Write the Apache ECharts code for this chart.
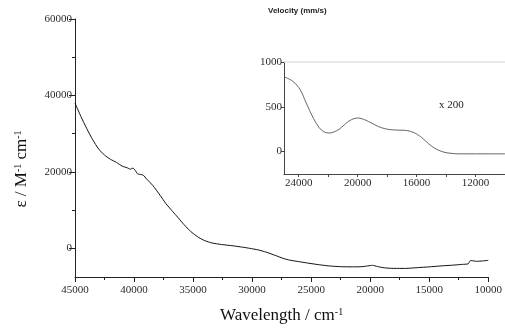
<!DOCTYPE html>
<html><head><meta charset="utf-8">
<script src="https://cdn.jsdelivr.net/npm/echarts@6/dist/echarts.min.js"></script>
<style>html,body{margin:0;padding:0;background:#fff}#c{width:505px;height:329px}</style>
</head><body><div id="c"></div>
<script>
// Main spectrum
const mainWave = [45000,44500,44000,43500,43000,42500,42000,41500,41000,40600,40300,40100,39900,39700,39400,39200,38950,38400,37800,37300,36800,36400,35850,35400,35000,34500,34000,33400,32600,31600,30800,30200,29500,28800,28000,27300,26800,26000,25200,24300,23500,22500,21500,20700,20200,19800,19400,18800,18000,17000,16000,15000,14000,13000,12200,11700,11550,11450,11000,10500,10000];
const mainEps = [38000,34500,31300,28400,26000,24400,23300,22500,21500,21100,20700,21000,20400,19500,19300,19100,18200,16400,13900,11700,9900,8500,6500,5000,3900,2800,2000,1400,1000,650,300,0,-400,-1000,-1900,-2700,-3100,-3500,-3900,-4300,-4600,-4800,-4850,-4800,-4600,-4450,-4750,-5100,-5250,-5250,-5050,-4850,-4600,-4400,-4200,-4050,-3300,-3200,-3400,-3300,-3150];
// Inset (x 200)
const insetWave = [25000,24400,23900,23500,23000,22600,22300,21950,21600,21250,20900,20600,20250,19950,19600,19250,18900,18600,18200,17800,17300,16800,16400,16100,15800,15500,15200,14800,14400,14000,13600,13200,12500,11500,10000];
const insetVal = [835,785,690,545,370,265,222,207,220,250,300,340,368,375,360,335,305,280,258,245,240,238,225,205,175,135,90,40,8,-12,-20,-25,-25,-25,-25];
// Tick labels
const mainYLabels = [0,20000,40000,60000];
const mainYMinor = [10000,30000,50000];
const insetXLabels = [12000,16000,20000,24000];
const insetXTicks = [12000,14000,16000,18000,20000,22000,24000];
const insetYLabels = [0,500,1000];

const serif = 'Liberation Serif';
const fmt = v => String(v);
const lbl = {fontFamily: serif, fontSize: 11, color: '#2a2a2a', formatter: fmt};
const axLine = {onZero: false, lineStyle: {color: '#222', width: 1}};

const chart = echarts.init(document.getElementById('c'));
chart.setOption({
  animation: false,
  backgroundColor: '#fff',
  title: {text: 'Velocity (mm/s)', left: 263, top: 2,
    textStyle: {fontFamily: 'Liberation Sans', fontSize: 8, fontWeight: 'bold', color: '#222'}},
  grid: [
    {left: 75, right: 15, top: 19, bottom: 48},
    {left: 284, right: -5, top: 62, bottom: 155}
  ],
  xAxis: [
    {gridIndex: 0, type: 'value', inverse: true, min: 10000, max: 45000, interval: 5000, position: 'bottom',
     axisLine: axLine, splitLine: {show: false},
     axisTick: {show: true, length: 5, lineStyle: {color: '#222'}},
     minorTick: {show: true, splitNumber: 2, length: 3, lineStyle: {color: '#222'}},
     axisLabel: Object.assign({margin: 8}, lbl),
     name: 'Wavelength / cm{s|-1}', nameLocation: 'middle', nameGap: 30,
     nameTextStyle: {fontFamily: serif, fontSize: 17, color: '#111',
       rich: {s: {fontFamily: serif, fontSize: 10, color: '#111', verticalAlign: 'top', lineHeight: 10}}}},
    {gridIndex: 1, type: 'value', inverse: true, min: 10000, max: 25000, position: 'bottom',
     axisLine: {onZero: false, lineStyle: {color: '#444', width: 1}}, splitLine: {show: false},
     axisTick: {show: true, length: 3, customValues: insetXTicks, lineStyle: {color: '#444'}},
     axisLabel: Object.assign({margin: 4, customValues: insetXLabels}, lbl)},
    {gridIndex: 1, type: 'value', inverse: true, min: 10000, max: 25000, position: 'top',
     axisLine: {onZero: false, lineStyle: {color: '#e2e2e2', width: 1.5}}, splitLine: {show: false},
     axisTick: {show: false}, axisLabel: {show: false}}
  ],
  yAxis: [
    {gridIndex: 0, type: 'value', min: -7500, max: 60000, position: 'left',
     axisLine: Object.assign({show: true}, axLine), splitLine: {show: false},
     axisTick: {show: true, length: 6, customValues: mainYLabels, lineStyle: {color: '#222'}},
     axisLabel: Object.assign({margin: 3, customValues: mainYLabels}, lbl)},
    {gridIndex: 0, type: 'value', min: -7500, max: 60000, position: 'left', offset: 0,
     axisLine: {show: false, onZero: false}, splitLine: {show: false},
     axisTick: {show: true, length: 3, customValues: mainYMinor, lineStyle: {color: '#222'}},
     axisLabel: {show: false}},
    {gridIndex: 1, type: 'value', min: -250, max: 1000, position: 'left',
     axisLine: {show: true, onZero: false, lineStyle: {color: '#444', width: 1}}, splitLine: {show: false},
     axisTick: {show: true, length: 3, customValues: insetYLabels, lineStyle: {color: '#444'}},
     axisLabel: Object.assign({margin: 2, customValues: insetYLabels}, lbl)}
  ],
  graphic: [
    {type: 'text', x: 22, y: 169, rotation: Math.PI / 2,
     style: {text: 'ε / M{s|-1} cm{s|-1}', fontFamily: serif, fontSize: 17, fill: '#111',
       align: 'center', verticalAlign: 'middle',
       rich: {s: {fontFamily: serif, fontSize: 10, fill: '#111', verticalAlign: 'top', lineHeight: 10}}}},
    {type: 'text', x: 439, y: 105,
     style: {text: 'x 200', fontFamily: serif, fontSize: 11, fill: '#222', verticalAlign: 'middle'}}
  ],
  series: [
    {type: 'line', xAxisIndex: 0, yAxisIndex: 0, showSymbol: false, smooth: 0.2,
     lineStyle: {color: '#111', width: 1},
     data: mainWave.map((w, i) => [w, mainEps[i]])},
    {type: 'line', xAxisIndex: 1, yAxisIndex: 2, showSymbol: false, smooth: 0.35,
     lineStyle: {color: '#666', width: 1},
     data: insetWave.map((w, i) => [w, insetVal[i]])}
  ]
});
</script></body></html>
